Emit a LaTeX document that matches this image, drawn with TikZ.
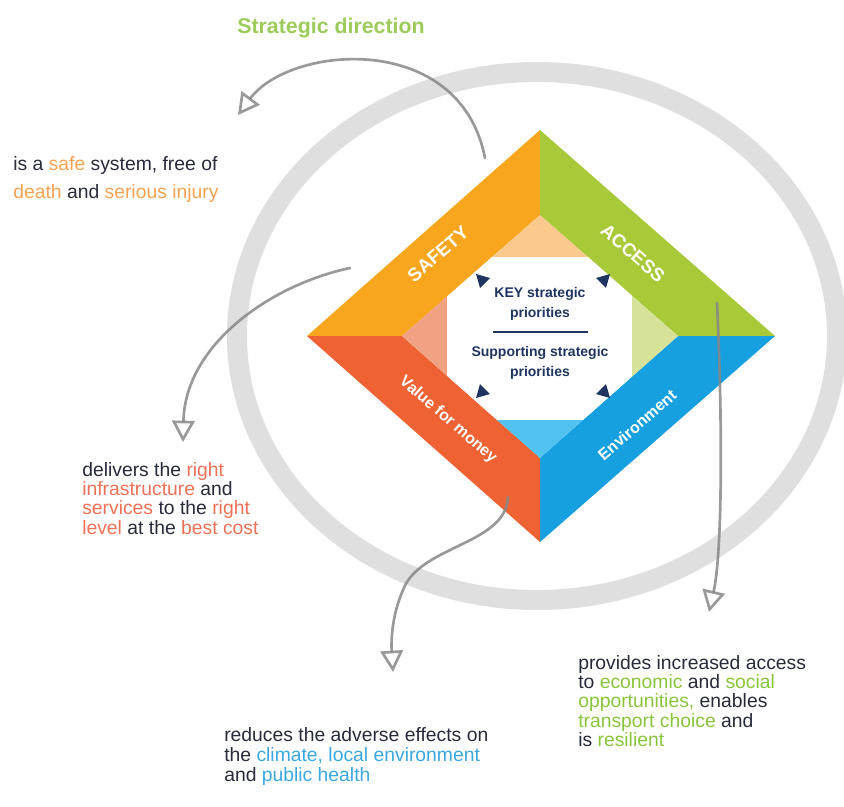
\documentclass[tikz,border=0pt]{standalone}
\usepackage{fontspec}
\usepackage{xcolor}
\usepackage{tikz}
\usetikzlibrary{arrows.meta, positioning}
\setmainfont{Liberation Sans}
\definecolor{safetyorange}{RGB}{248, 166, 30}
\definecolor{accessgreen}{RGB}{168, 201, 56}
\definecolor{valuered}{RGB}{238, 98, 51}
\definecolor{envblue}{RGB}{22, 160, 224}
\definecolor{safetylight}{RGB}{252, 201, 140}
\definecolor{accesslight}{RGB}{213, 226, 152}
\definecolor{valuelight}{RGB}{241, 162, 130}
\definecolor{envlight}{RGB}{82, 194, 240}
\definecolor{navy}{RGB}{31, 53, 96}
\definecolor{ringgrey}{RGB}{223, 223, 223}
\definecolor{arrowgrey}{RGB}{135, 135, 135}
\definecolor{inkdark}{RGB}{38, 42, 58}
\definecolor{titlegreen}{RGB}{156, 203, 90}
\definecolor{safetext}{RGB}{245, 162, 82}
\definecolor{valuetext}{RGB}{237, 113, 86}
\definecolor{envtext}{RGB}{58, 168, 222}
\definecolor{accesstext}{RGB}{138, 196, 60}

\begin{document}
\begin{tikzpicture}[x=0.75pt, y=-0.75pt, every node/.style={inner sep=0pt}]
  % Styles
  \tikzstyle{ring} = [line width=15pt, draw=ringgrey]
  \tikzstyle{pointer} = [line width=2pt, draw=arrowgrey, draw opacity=0.85, line cap=round, -{Triangle[open, length=16pt, width=17pt]}]
  \tikzstyle{bandtext} = [text=white, font=\bfseries\fontsize{14}{16}\selectfont]
  \tikzstyle{smallband} = [text=white, font=\bfseries\fontsize{12}{14}\selectfont]
  \tikzstyle{centretext} = [text=navy, align=center, font=\bfseries\fontsize{10.5}{15}\selectfont]
  \tikzstyle{note} = [text=inkdark, anchor=north west, align=left, font=\fontsize{14.5}{14.5}\selectfont]

  \useasboundingbox (0,0) rectangle (844,807);

  % Grey ring behind the diamond
  \draw[ring] (537,336) ellipse [x radius=300, y radius=264];

  % Diamond corners, outer and inner
  \coordinate (ot) at (540,130);
  \coordinate (or) at (775,336);
  \coordinate (ob) at (540,542);
  \coordinate (ol) at (307,336);
  \coordinate (it) at (540,215);
  \coordinate (ir) at (678,336);
  \coordinate (ib) at (540,458);
  \coordinate (il) at (402,336);

  % Coloured bands
  \fill[safetyorange] (ol) -- (ot) -- (it) -- (il) -- cycle;
  \fill[accessgreen] (ot) -- (or) -- (ir) -- (it) -- cycle;
  \fill[envblue] (or) -- (ob) -- (ib) -- (ir) -- cycle;
  \fill[valuered] (ob) -- (ol) -- (il) -- (ib) -- cycle;

  % Inner diamond: pale corners, white centre
  \begin{scope}
    \clip (it) -- (ir) -- (ib) -- (il) -- cycle;
    \fill[safetylight] (402,215) rectangle (678,257);
    \fill[accesslight] (632,215) rectangle (678,458);
    \fill[envlight] (402,420) rectangle (678,458);
    \fill[valuelight] (402,215) rectangle (447,458);
    \fill[white] (447,257) rectangle (632,420);
  \end{scope}

  % Corner markers
  \foreach \cx/\cy/\sx/\sy in {476/274/1/1, 610/274/-1/1, 476/398/1/-1, 610/398/-1/-1}
    \fill[navy] (\cx,\cy) -- ++(14*\sx,4*\sy) -- ++(-10*\sx,10*\sy) -- cycle;

  % Centre text
  \node[centretext] (key) at (540,304) {KEY strategic\\priorities};
  \node[centretext, below=19pt of key] (support) {Supporting strategic\\priorities};
  \draw[navy, line width=1pt] (493,332) -- (588,332);

  % Band names
  \node[bandtext, rotate=41] (safety) at (438,254) {SAFETY};
  \node[bandtext, rotate=-41] (access) at (633,253) {ACCESS};
  \node[smallband, rotate=-41] (value) at (448,420) {Value for money};
  \node[smallband, rotate=41] (environment) at (637,425) {Environment};

  % Heading
  \node[text=titlegreen, font=\bfseries\fontsize{16}{18}\selectfont] (title) at (331,28) {Strategic direction};

  % Outcome notes
  \node[note, font=\fontsize{14.5}{21}\selectfont] (safetynote) at (13,156)
    {is a \textcolor{safetext}{safe} system, free of\\
     \textcolor{safetext}{death} and \textcolor{safetext}{serious injury}};
  \node[note] (valuenote) at (82,462)
    {delivers the \textcolor{valuetext}{right}\\
     \textcolor{valuetext}{infrastructure} and\\
     \textcolor{valuetext}{services} to the \textcolor{valuetext}{right}\\
     \textcolor{valuetext}{level} at the \textcolor{valuetext}{best cost}};
  \node[note, font=\fontsize{14.5}{15}\selectfont] (envnote) at (224,727)
    {reduces the adverse effects on\\
     the \textcolor{envtext}{climate, local environment}\\
     and \textcolor{envtext}{public health}};
  \node[note] (accessnote) at (578,655)
    {provides increased access\\
     to \textcolor{accesstext}{economic} and \textcolor{accesstext}{social}\\
     \textcolor{accesstext}{opportunities,} enables\\
     \textcolor{accesstext}{transport choice} and\\
     is \textcolor{accesstext}{resilient}};

  % Connections
  \coordinate (safetyfrom) at (485,158);
  \coordinate (safetyto) at (238,115);
  \coordinate (valuefrom) at (350,268);
  \coordinate (valueto) at (183,442);
  \coordinate (envfrom) at (508,497);
  \coordinate (envto) at (393,672);
  \coordinate (accessfrom) at (717,303);
  \coordinate (accessto) at (709,612);
  \draw[pointer] (safetyfrom) .. controls (460,30) and (290,45) .. (safetyto);
  \draw[pointer] (valuefrom) .. controls (270,285) and (185,345) .. (valueto);
  \draw[pointer] (envfrom) .. controls (506,545) and (420,545) .. (403,590)
    .. controls (392,615) and (391,640) .. (envto);
  \draw[pointer] (accessfrom) .. controls (723,430) and (722,555) .. (accessto);
\end{tikzpicture}
\end{document}
